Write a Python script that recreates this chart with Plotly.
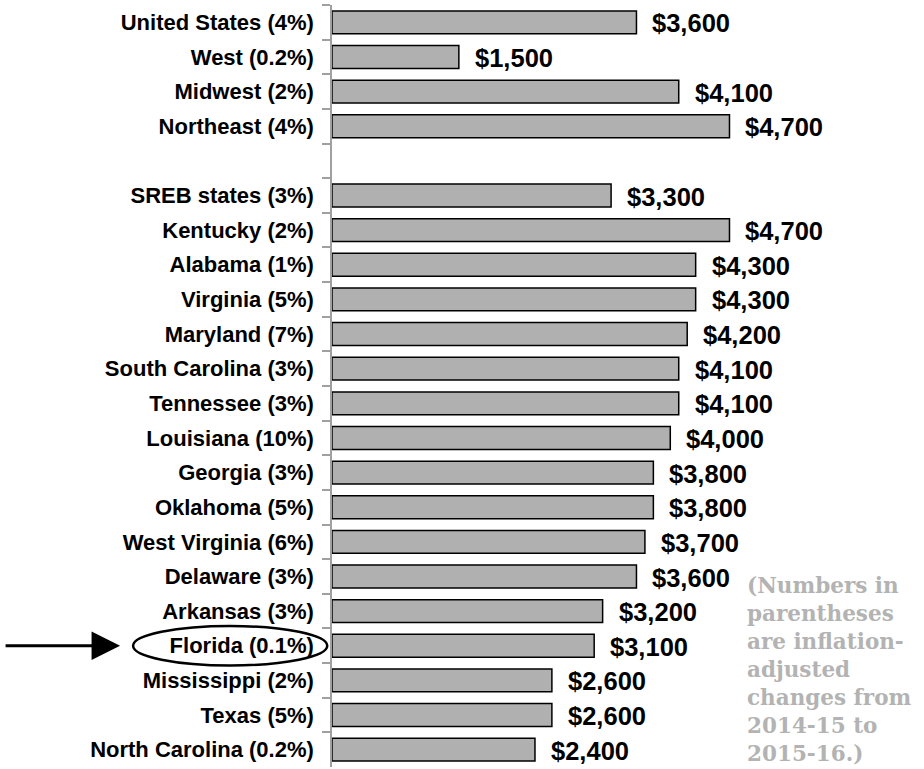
import plotly.graph_objects as go

categories = ["United States (4%)", "West (0.2%)", "Midwest (2%)", "Northeast (4%)", " ",
              "SREB states (3%)", "Kentucky (2%)", "Alabama (1%)", "Virginia (5%)", "Maryland (7%)",
              "South Carolina (3%)", "Tennessee (3%)", "Louisiana (10%)", "Georgia (3%)",
              "Oklahoma (5%)", "West Virginia (6%)", "Delaware (3%)", "Arkansas (3%)",
              "Florida (0.1%)", "Mississippi (2%)", "Texas (5%)", "North Carolina (0.2%)"]
values = [3600, 1500, 4100, 4700, None,
          3300, 4700, 4300, 4300, 4200,
          4100, 4100, 4000, 3800,
          3800, 3700, 3600, 3200,
          3100, 2600, 2600, 2400]
highlight = "Florida (0.1%)"
note_lines = ["(Numbers in", "parentheses", "are inflation-", "adjusted",
              "changes from", "2014-15 to", "2015-16.)"]

LABEL_FONT = "Liberation Sans, Arial, sans-serif"
VALUE_FONT = "Liberation Sans, Arial, sans-serif"

fig = go.Figure(go.Bar(
    x=values, y=categories, orientation="h",
    marker=dict(color="#b0b0b0", line=dict(color="#000000", width=1.5)),
    width=0.66, hoverinfo="skip",
))

for c, v in zip(categories, values):
    if v is None:
        continue
    fig.add_annotation(x=v, y=c, xref="x", yref="y", text=f"${v:,}", showarrow=False,
                       xanchor="left", yanchor="middle", xshift=14, yshift=-1,
                       font=dict(family=VALUE_FONT, size=25.5, color="#000000", weight="bold"))

idx = categories.index(highlight)
# ellipse around Florida label
fig.add_shape(type="circle", xref="paper", yref="y",
              x0=-0.336, x1=-0.008, y0=idx - 0.57, y1=idx + 0.57,
              line=dict(color="#000000", width=2.5))
# arrow
fig.add_annotation(x=-0.358, y=highlight, xref="paper", yref="y", ax=-116, ay=0,
                   showarrow=True, arrowhead=2, arrowsize=1.9, arrowwidth=3,
                   arrowcolor="#000000", text="")

fig.add_annotation(x=0.698, y=0.257, xref="paper", yref="paper", xanchor="left", yanchor="top",
                   align="left", showarrow=False, text="<br>".join(note_lines),
                   font=dict(family="DejaVu Serif, serif", size=21.5, color="#b3b3b3", weight="bold"))

fig.update_layout(
    width=924, height=769,
    margin=dict(l=332, r=0, t=5, b=2, autoexpand=False),
    paper_bgcolor="white", plot_bgcolor="white",
    showlegend=False, bargap=0.34,
    xaxis=dict(range=[0, 7000], visible=False, showgrid=False, zeroline=False, automargin=False),
    yaxis=dict(type="category", categoryorder="array", categoryarray=categories,
               autorange="reversed", showline=True, linecolor="#a0a0a0", linewidth=1.5,
               ticks="outside", tickson="boundaries", ticklen=8, tickwidth=1.5,
               tickcolor="#a0a0a0", showgrid=False, ticklabelstandoff=12, automargin=False,
               tickfont=dict(family=LABEL_FONT, size=22, color="#000000", weight="bold")),
)

fig.write_html("out.html", config={"displayModeBar": False},
               post_script="document.body.style.margin='0px';")
